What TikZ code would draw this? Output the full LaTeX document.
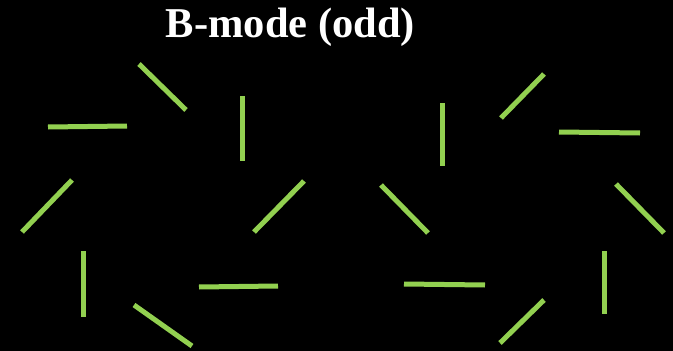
\documentclass[tikz,border=0pt]{standalone}
\usepackage{fontspec}
\setmainfont{Liberation Serif}
\definecolor{stick}{HTML}{92D050}
\begin{document}
\begin{tikzpicture}[x=1pt,y=-1pt,
  stickline/.style={draw=stick,line width=5pt,line cap=butt},
  titletext/.style={text=white,font=\fontsize{42.5}{46}\selectfont\bfseries,inner sep=0pt,anchor=base}]
  % black backdrop fixes the page size
  \fill[black] (0,0) rectangle (673,351);
  \useasboundingbox (0,0) rectangle (673,351);
  \node[titletext] (title) at (290.5,37.5) {B-mode (odd)};
  % left pattern
  \coordinate (a1) at (139,64);  \coordinate (b1) at (186,110);
  \coordinate (a2) at (48,127);  \coordinate (b2) at (127,126);
  \coordinate (a3) at (242,96);  \coordinate (b3) at (242,161);
  \coordinate (a4) at (22,232);  \coordinate (b4) at (72,180);
  \coordinate (a5) at (254,232); \coordinate (b5) at (304,181);
  \coordinate (a6) at (83,251);  \coordinate (b6) at (83,317);
  \coordinate (a7) at (199,287); \coordinate (b7) at (278,286);
  \coordinate (a8) at (134,305); \coordinate (b8) at (192,346);
  % right pattern
  \coordinate (a9) at (501,118);  \coordinate (b9) at (544,74);
  \coordinate (a10) at (442,103); \coordinate (b10) at (442,166);
  \coordinate (a11) at (559,132); \coordinate (b11) at (640,133);
  \coordinate (a12) at (381,185); \coordinate (b12) at (428,233);
  \coordinate (a13) at (616,184); \coordinate (b13) at (664,233);
  \coordinate (a14) at (604,251); \coordinate (b14) at (604,314);
  \coordinate (a15) at (404,284); \coordinate (b15) at (485,285);
  \coordinate (a16) at (500,343); \coordinate (b16) at (544,300);
  \foreach \i in {1,...,16} {\draw[stickline] (a\i) -- (b\i);}
\end{tikzpicture}
\end{document}
